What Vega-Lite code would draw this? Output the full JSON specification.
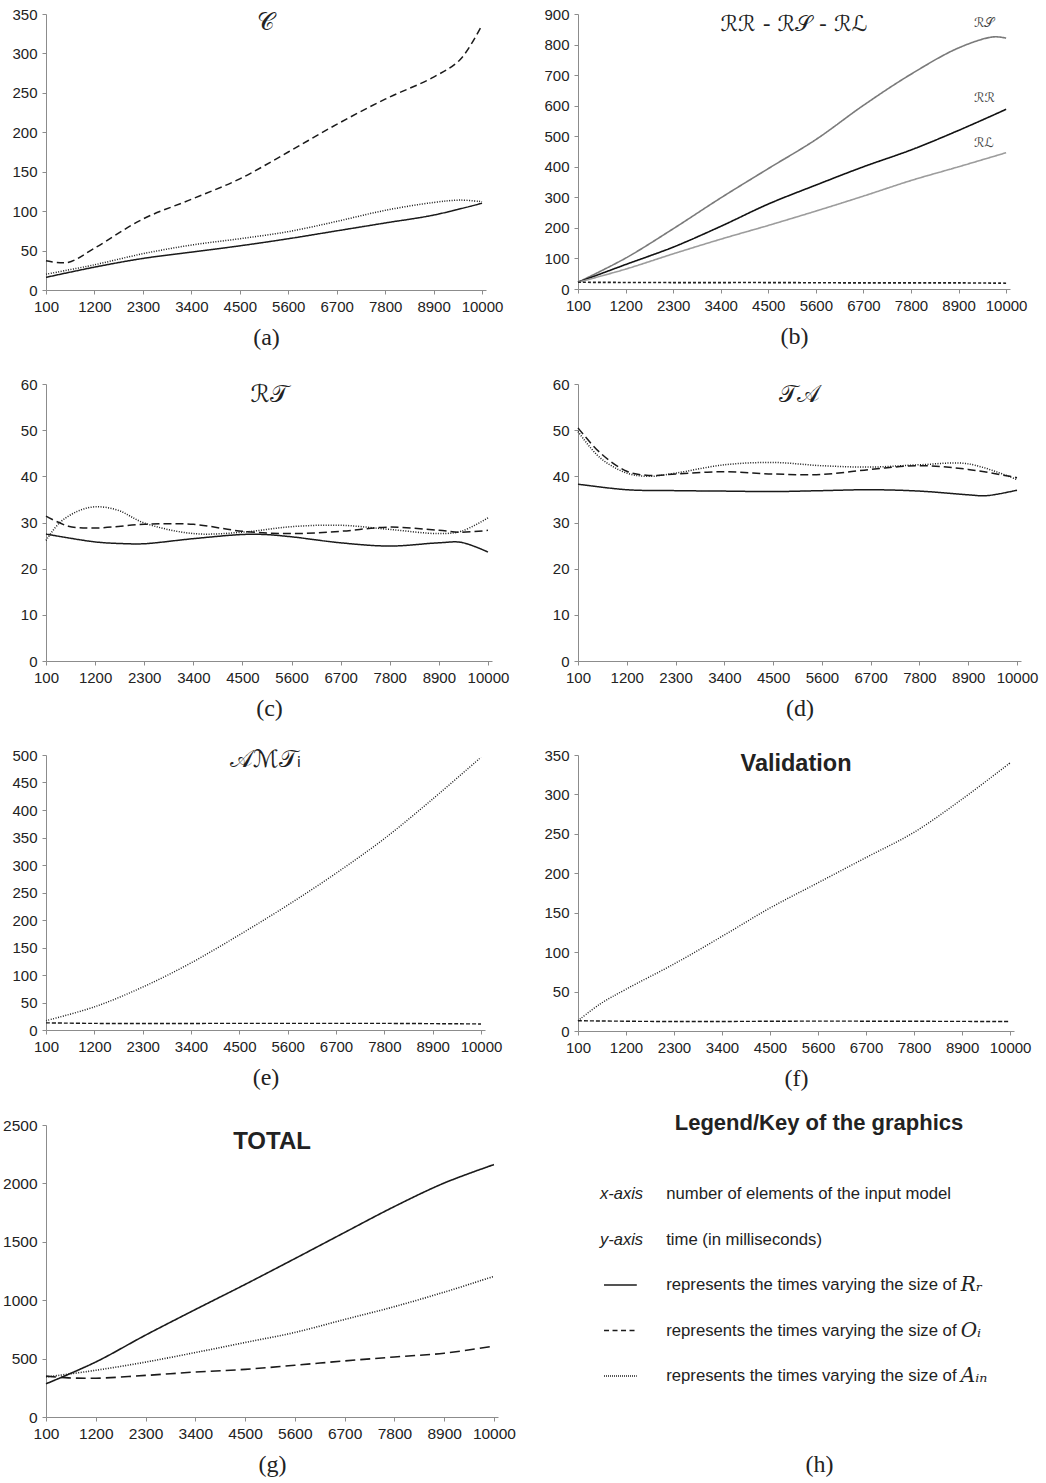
{
  "$schema": "https://vega.github.io/schema/vega-lite/v6.json",
  "padding": {"left": 2, "top": 7, "right": 0, "bottom": 0},
  "background": "white",
  "config": {
    "view": {"stroke": null},
    "font": "Liberation Sans",
    "axis": {
      "grid": false,
      "domainColor": "#8c8c8c",
      "tickColor": "#8c8c8c",
      "tickSize": 4,
      "labelFont": "Liberation Sans",
      "labelFontSize": 15,
      "labelColor": "#222222",
      "labelOverlap": false,
      "labelFlush": false,
      "titleFont": "Liberation Serif",
      "titleFontSize": 24,
      "titleFontWeight": "normal",
      "titleColor": "#222222"
    },
    "axisX": {"labelPadding": 5, "titlePadding": 11},
    "axisY": {"labelPadding": 5},
    "title": {"anchor": "middle", "color": "#222222", "frame": "group"}
  },
  "resolve": {"scale": {"strokeDash": "independent", "color": "independent"}},
  "datasets": {
    "a": [
      {"n": 100, "s": "Rr", "t": 16}, {"n": 1200, "s": "Rr", "t": 29}, {"n": 2300, "s": "Rr", "t": 40}, {"n": 3400, "s": "Rr", "t": 48}, {"n": 4500, "s": "Rr", "t": 56}, {"n": 5600, "s": "Rr", "t": 65}, {"n": 6700, "s": "Rr", "t": 75}, {"n": 7800, "s": "Rr", "t": 85}, {"n": 8900, "s": "Rr", "t": 95}, {"n": 10000, "s": "Rr", "t": 110},
      {"n": 100, "s": "Oi", "t": 37}, {"n": 600, "s": "Oi", "t": 35}, {"n": 1200, "s": "Oi", "t": 53}, {"n": 2300, "s": "Oi", "t": 90}, {"n": 3400, "s": "Oi", "t": 115}, {"n": 4500, "s": "Oi", "t": 141}, {"n": 5600, "s": "Oi", "t": 175}, {"n": 6700, "s": "Oi", "t": 210}, {"n": 7800, "s": "Oi", "t": 242}, {"n": 8900, "s": "Oi", "t": 270}, {"n": 9500, "s": "Oi", "t": 292}, {"n": 10000, "s": "Oi", "t": 336},
      {"n": 100, "s": "Ain", "t": 20}, {"n": 1200, "s": "Ain", "t": 32}, {"n": 2300, "s": "Ain", "t": 46}, {"n": 3400, "s": "Ain", "t": 57}, {"n": 4500, "s": "Ain", "t": 65}, {"n": 5600, "s": "Ain", "t": 74}, {"n": 6700, "s": "Ain", "t": 87}, {"n": 7800, "s": "Ain", "t": 101}, {"n": 8900, "s": "Ain", "t": 111}, {"n": 9500, "s": "Ain", "t": 114}, {"n": 10000, "s": "Ain", "t": 112}
    ],
    "b": [
      {"n": 100, "s": "RS", "t": 22}, {"n": 1200, "s": "RS", "t": 101}, {"n": 2300, "s": "RS", "t": 197}, {"n": 3400, "s": "RS", "t": 298}, {"n": 4500, "s": "RS", "t": 394}, {"n": 5600, "s": "RS", "t": 489}, {"n": 6700, "s": "RS", "t": 601}, {"n": 7800, "s": "RS", "t": 703}, {"n": 8900, "s": "RS", "t": 789}, {"n": 9700, "s": "RS", "t": 825}, {"n": 10000, "s": "RS", "t": 821},
      {"n": 100, "s": "RR", "t": 22}, {"n": 1200, "s": "RR", "t": 80}, {"n": 2300, "s": "RR", "t": 137}, {"n": 3400, "s": "RR", "t": 205}, {"n": 4500, "s": "RR", "t": 278}, {"n": 5600, "s": "RR", "t": 340}, {"n": 6700, "s": "RR", "t": 400}, {"n": 7800, "s": "RR", "t": 455}, {"n": 8900, "s": "RR", "t": 519}, {"n": 10000, "s": "RR", "t": 588},
      {"n": 100, "s": "RL", "t": 22}, {"n": 1200, "s": "RL", "t": 65}, {"n": 2300, "s": "RL", "t": 115}, {"n": 3400, "s": "RL", "t": 163}, {"n": 4500, "s": "RL", "t": 208}, {"n": 5600, "s": "RL", "t": 255}, {"n": 6700, "s": "RL", "t": 304}, {"n": 7800, "s": "RL", "t": 355}, {"n": 8900, "s": "RL", "t": 400}, {"n": 10000, "s": "RL", "t": 446},
      {"n": 100, "s": "Oi", "t": 22}, {"n": 2300, "s": "Oi", "t": 21}, {"n": 4500, "s": "Oi", "t": 21}, {"n": 6700, "s": "Oi", "t": 20}, {"n": 8900, "s": "Oi", "t": 20}, {"n": 10000, "s": "Oi", "t": 19}
    ],
    "bnotes": [
      {"n": 9260, "t": 870, "label": "ℛ𝒮"},
      {"n": 9260, "t": 625, "label": "ℛℛ"},
      {"n": 9260, "t": 478, "label": "ℛℒ"}
    ],
    "c": [
      {"n": 100, "s": "Rr", "t": 27.5}, {"n": 1200, "s": "Rr", "t": 25.8}, {"n": 1900, "s": "Rr", "t": 25.4}, {"n": 2300, "s": "Rr", "t": 25.4}, {"n": 3400, "s": "Rr", "t": 26.5}, {"n": 4500, "s": "Rr", "t": 27.4}, {"n": 5000, "s": "Rr", "t": 27.4}, {"n": 5600, "s": "Rr", "t": 26.9}, {"n": 6700, "s": "Rr", "t": 25.6}, {"n": 7800, "s": "Rr", "t": 24.9}, {"n": 8900, "s": "Rr", "t": 25.6}, {"n": 9400, "s": "Rr", "t": 25.7}, {"n": 10000, "s": "Rr", "t": 23.6},
      {"n": 100, "s": "Oi", "t": 31.4}, {"n": 600, "s": "Oi", "t": 29.2}, {"n": 1200, "s": "Oi", "t": 28.8}, {"n": 2300, "s": "Oi", "t": 29.6}, {"n": 3400, "s": "Oi", "t": 29.6}, {"n": 4500, "s": "Oi", "t": 28.1}, {"n": 5600, "s": "Oi", "t": 27.6}, {"n": 6700, "s": "Oi", "t": 28.1}, {"n": 7800, "s": "Oi", "t": 29.0}, {"n": 8900, "s": "Oi", "t": 28.3}, {"n": 9400, "s": "Oi", "t": 27.9}, {"n": 10000, "s": "Oi", "t": 28.3},
      {"n": 100, "s": "Ain", "t": 26.1}, {"n": 400, "s": "Ain", "t": 29.9}, {"n": 800, "s": "Ain", "t": 32.4}, {"n": 1200, "s": "Ain", "t": 33.4}, {"n": 1700, "s": "Ain", "t": 32.7}, {"n": 2300, "s": "Ain", "t": 29.9}, {"n": 3400, "s": "Ain", "t": 27.6}, {"n": 4500, "s": "Ain", "t": 27.9}, {"n": 5600, "s": "Ain", "t": 29.1}, {"n": 6700, "s": "Ain", "t": 29.4}, {"n": 7800, "s": "Ain", "t": 28.5}, {"n": 8900, "s": "Ain", "t": 27.6}, {"n": 9400, "s": "Ain", "t": 28.1}, {"n": 10000, "s": "Ain", "t": 31.0}
    ],
    "d": [
      {"n": 100, "s": "Rr", "t": 38.3}, {"n": 1200, "s": "Rr", "t": 37.1}, {"n": 2300, "s": "Rr", "t": 36.9}, {"n": 3400, "s": "Rr", "t": 36.8}, {"n": 4500, "s": "Rr", "t": 36.7}, {"n": 5600, "s": "Rr", "t": 36.9}, {"n": 6700, "s": "Rr", "t": 37.1}, {"n": 7800, "s": "Rr", "t": 36.8}, {"n": 8900, "s": "Rr", "t": 36.0}, {"n": 9300, "s": "Rr", "t": 35.8}, {"n": 10000, "s": "Rr", "t": 37.0},
      {"n": 100, "s": "Oi", "t": 50.5}, {"n": 600, "s": "Oi", "t": 45.1}, {"n": 1200, "s": "Oi", "t": 41.1}, {"n": 1700, "s": "Oi", "t": 40.2}, {"n": 2300, "s": "Oi", "t": 40.5}, {"n": 3400, "s": "Oi", "t": 41.0}, {"n": 4500, "s": "Oi", "t": 40.5}, {"n": 5600, "s": "Oi", "t": 40.4}, {"n": 6700, "s": "Oi", "t": 41.5}, {"n": 7800, "s": "Oi", "t": 42.3}, {"n": 8900, "s": "Oi", "t": 41.5}, {"n": 10000, "s": "Oi", "t": 39.7},
      {"n": 100, "s": "Ain", "t": 49.7}, {"n": 600, "s": "Ain", "t": 44.0}, {"n": 1200, "s": "Ain", "t": 40.7}, {"n": 1700, "s": "Ain", "t": 40.0}, {"n": 2300, "s": "Ain", "t": 40.7}, {"n": 3400, "s": "Ain", "t": 42.5}, {"n": 4500, "s": "Ain", "t": 43.0}, {"n": 5600, "s": "Ain", "t": 42.3}, {"n": 6700, "s": "Ain", "t": 42.0}, {"n": 7800, "s": "Ain", "t": 42.5}, {"n": 8900, "s": "Ain", "t": 42.7}, {"n": 10000, "s": "Ain", "t": 39.3}
    ],
    "e": [
      {"n": 100, "s": "Ain", "t": 17}, {"n": 1200, "s": "Ain", "t": 42}, {"n": 2300, "s": "Ain", "t": 78}, {"n": 3400, "s": "Ain", "t": 122}, {"n": 4500, "s": "Ain", "t": 173}, {"n": 5600, "s": "Ain", "t": 227}, {"n": 6700, "s": "Ain", "t": 285}, {"n": 7800, "s": "Ain", "t": 348}, {"n": 8900, "s": "Ain", "t": 420}, {"n": 10000, "s": "Ain", "t": 496},
      {"n": 100, "s": "Oi", "t": 13}, {"n": 1200, "s": "Oi", "t": 12}, {"n": 4500, "s": "Oi", "t": 12}, {"n": 7800, "s": "Oi", "t": 12}, {"n": 10000, "s": "Oi", "t": 11}
    ],
    "f": [
      {"n": 100, "s": "Ain", "t": 13}, {"n": 600, "s": "Ain", "t": 34}, {"n": 1200, "s": "Ain", "t": 53}, {"n": 2300, "s": "Ain", "t": 85}, {"n": 3400, "s": "Ain", "t": 120}, {"n": 4500, "s": "Ain", "t": 156}, {"n": 5600, "s": "Ain", "t": 188}, {"n": 6700, "s": "Ain", "t": 220}, {"n": 7800, "s": "Ain", "t": 252}, {"n": 8900, "s": "Ain", "t": 294}, {"n": 10000, "s": "Ain", "t": 340},
      {"n": 100, "s": "Oi", "t": 13}, {"n": 2300, "s": "Oi", "t": 12}, {"n": 5600, "s": "Oi", "t": 12.5}, {"n": 10000, "s": "Oi", "t": 12}
    ],
    "g": [
      {"n": 100, "s": "Rr", "t": 284}, {"n": 1200, "s": "Rr", "t": 471}, {"n": 2300, "s": "Rr", "t": 701}, {"n": 3400, "s": "Rr", "t": 920}, {"n": 4500, "s": "Rr", "t": 1135}, {"n": 5600, "s": "Rr", "t": 1356}, {"n": 6700, "s": "Rr", "t": 1580}, {"n": 7800, "s": "Rr", "t": 1802}, {"n": 8900, "s": "Rr", "t": 2003}, {"n": 10000, "s": "Rr", "t": 2161},
      {"n": 100, "s": "Oi", "t": 350}, {"n": 600, "s": "Oi", "t": 335}, {"n": 1200, "s": "Oi", "t": 332}, {"n": 2300, "s": "Oi", "t": 356}, {"n": 3400, "s": "Oi", "t": 385}, {"n": 4500, "s": "Oi", "t": 408}, {"n": 5600, "s": "Oi", "t": 443}, {"n": 6700, "s": "Oi", "t": 480}, {"n": 7800, "s": "Oi", "t": 514}, {"n": 8900, "s": "Oi", "t": 546}, {"n": 10000, "s": "Oi", "t": 607},
      {"n": 100, "s": "Ain", "t": 342}, {"n": 1200, "s": "Ain", "t": 400}, {"n": 2300, "s": "Ain", "t": 470}, {"n": 3400, "s": "Ain", "t": 552}, {"n": 4500, "s": "Ain", "t": 638}, {"n": 5600, "s": "Ain", "t": 724}, {"n": 6700, "s": "Ain", "t": 835}, {"n": 7800, "s": "Ain", "t": 945}, {"n": 8900, "s": "Ain", "t": 1069}, {"n": 10000, "s": "Ain", "t": 1204}
    ],
    "legend": [
      {"item": "x-axis", "key": "x-axis", "desc": "number of elements of the input model"},
      {"item": "y-axis", "key": "y-axis", "desc": "time (in milliseconds)"},
      {"item": "Rr", "desc": "represents the times varying the size of", "math": "Rᵣ"},
      {"item": "Oi", "desc": "represents the times varying the size of", "math": "Oᵢ"},
      {"item": "Ain", "desc": "represents the times varying the size of", "math": "Aᵢₙ"}
    ]
  },
  "columns": 2,
  "spacing": {"row": 94, "column": 80},
  "bounds": "flush",
  "concat": [
    {
      "width": 440, "height": 276,
      "title": {"text": "𝒞", "font": "DejaVu Sans", "fontSize": 24, "fontWeight": "normal", "offset": -28},
      "data": {"name": "a"},
      "mark": {"type": "line", "interpolate": "catmull-rom", "strokeWidth": 1.5, "color": "#1a1a1a"},
      "encoding": {
        "x": {"field": "n", "type": "quantitative", "scale": {"domain": [100, 10090], "nice": false, "zero": false}, "axis": {"values": [100, 1200, 2300, 3400, 4500, 5600, 6700, 7800, 8900, 10000], "format": "d", "title": "(a)"}},
        "y": {"field": "t", "type": "quantitative", "scale": {"domain": [0, 350], "nice": false}, "axis": {"values": [0, 50, 100, 150, 200, 250, 300, 350], "format": "d", "title": null}},
        "strokeDash": {"field": "s", "type": "nominal", "scale": {"domain": ["Rr", "Oi", "Ain"], "range": [[1, 0], [7, 4], [1, 1.5]]}, "legend": null}
      }
    },
    {
      "width": 432, "height": 275,
      "title": {"text": "ℛℛ - ℛ𝒮 - ℛℒ", "font": "DejaVu Sans", "fontSize": 22, "fontWeight": "normal", "offset": -29},
      "encoding": {
        "x": {"field": "n", "type": "quantitative", "scale": {"domain": [100, 10090], "nice": false, "zero": false}, "axis": {"values": [100, 1200, 2300, 3400, 4500, 5600, 6700, 7800, 8900, 10000], "format": "d", "title": "(b)"}},
        "y": {"field": "t", "type": "quantitative", "scale": {"domain": [0, 900], "nice": false}, "axis": {"values": [0, 100, 200, 300, 400, 500, 600, 700, 800, 900], "format": "d", "title": null}}
      },
      "layer": [
        {
          "data": {"name": "b"},
          "mark": {"type": "line", "interpolate": "catmull-rom", "strokeWidth": 1.6},
          "encoding": {
            "color": {"field": "s", "type": "nominal", "scale": {"domain": ["RS", "RR", "RL", "Oi"], "range": ["#7a7a7a", "#111111", "#9c9c9c", "#222222"]}, "legend": null},
            "strokeDash": {"field": "s", "type": "nominal", "scale": {"domain": ["RS", "RR", "RL", "Oi"], "range": [[1, 0], [1, 0], [1, 0], [3, 2]]}, "legend": null}
          }
        },
        {
          "data": {"name": "bnotes"},
          "mark": {"type": "text", "font": "DejaVu Sans", "fontSize": 13, "color": "#444444", "align": "left"},
          "encoding": {
            "text": {"field": "label"}
          }
        }
      ]
    },
    {
      "width": 446, "height": 277,
      "title": {"text": "ℛ𝒯", "font": "DejaVu Sans", "fontSize": 24, "fontWeight": "normal", "offset": -30},
      "data": {"name": "c"},
      "mark": {"type": "line", "interpolate": "catmull-rom", "strokeWidth": 1.5, "color": "#1a1a1a"},
      "encoding": {
        "x": {"field": "n", "type": "quantitative", "scale": {"domain": [100, 10090], "nice": false, "zero": false}, "axis": {"values": [100, 1200, 2300, 3400, 4500, 5600, 6700, 7800, 8900, 10000], "format": "d", "title": "(c)"}},
        "y": {"field": "t", "type": "quantitative", "scale": {"domain": [0, 60], "nice": false}, "axis": {"values": [0, 10, 20, 30, 40, 50, 60], "format": "d", "title": null}},
        "strokeDash": {"field": "s", "type": "nominal", "scale": {"domain": ["Rr", "Oi", "Ain"], "range": [[1, 0], [8, 4], [1, 1.5]]}, "legend": null}
      }
    },
    {
      "width": 443, "height": 277,
      "title": {"text": "𝒯𝒜", "font": "DejaVu Sans", "fontSize": 24, "fontWeight": "normal", "offset": -30},
      "data": {"name": "d"},
      "mark": {"type": "line", "interpolate": "catmull-rom", "strokeWidth": 1.5, "color": "#1a1a1a"},
      "encoding": {
        "x": {"field": "n", "type": "quantitative", "scale": {"domain": [100, 10090], "nice": false, "zero": false}, "axis": {"values": [100, 1200, 2300, 3400, 4500, 5600, 6700, 7800, 8900, 10000], "format": "d", "title": "(d)"}},
        "y": {"field": "t", "type": "quantitative", "scale": {"domain": [0, 60], "nice": false}, "axis": {"values": [0, 10, 20, 30, 40, 50, 60], "format": "d", "title": null}},
        "strokeDash": {"field": "s", "type": "nominal", "scale": {"domain": ["Rr", "Oi", "Ain"], "range": [[1, 0], [8, 4], [1, 1.5]]}, "legend": null}
      }
    },
    {
      "width": 439, "height": 275,
      "title": {"text": "𝒜ℳ𝒯ᵢ", "font": "DejaVu Sans", "fontSize": 24, "fontWeight": "normal", "offset": -24},
      "data": {"name": "e"},
      "mark": {"type": "line", "interpolate": "catmull-rom", "strokeWidth": 1.4, "color": "#1a1a1a"},
      "encoding": {
        "x": {"field": "n", "type": "quantitative", "scale": {"domain": [100, 10090], "nice": false, "zero": false}, "axis": {"values": [100, 1200, 2300, 3400, 4500, 5600, 6700, 7800, 8900, 10000], "format": "d", "title": "(e)"}},
        "y": {"field": "t", "type": "quantitative", "scale": {"domain": [0, 500], "nice": false}, "axis": {"values": [0, 50, 100, 150, 200, 250, 300, 350, 400, 450, 500], "format": "d", "title": null}},
        "strokeDash": {"field": "s", "type": "nominal", "scale": {"domain": ["Rr", "Oi", "Ain"], "range": [[1, 0], [4, 2], [1, 1.5]]}, "legend": null}
      }
    },
    {
      "width": 436, "height": 276,
      "title": {"text": "Validation", "font": "Liberation Sans", "fontSize": 23.5, "fontWeight": "bold", "offset": -27},
      "data": {"name": "f"},
      "mark": {"type": "line", "interpolate": "catmull-rom", "strokeWidth": 1.4, "color": "#1a1a1a"},
      "encoding": {
        "x": {"field": "n", "type": "quantitative", "scale": {"domain": [100, 10090], "nice": false, "zero": false}, "axis": {"values": [100, 1200, 2300, 3400, 4500, 5600, 6700, 7800, 8900, 10000], "format": "d", "title": "(f)"}},
        "y": {"field": "t", "type": "quantitative", "scale": {"domain": [0, 350], "nice": false}, "axis": {"values": [0, 50, 100, 150, 200, 250, 300, 350], "format": "d", "title": null}},
        "strokeDash": {"field": "s", "type": "nominal", "scale": {"domain": ["Rr", "Oi", "Ain"], "range": [[1, 0], [4, 2], [1, 1.5]]}, "legend": null}
      }
    },
    {
      "width": 452, "height": 292,
      "title": {"text": "TOTAL", "font": "Liberation Sans", "fontSize": 24, "fontWeight": "bold", "offset": -36},
      "data": {"name": "g"},
      "mark": {"type": "line", "interpolate": "catmull-rom", "strokeWidth": 1.6, "color": "#1a1a1a"},
      "encoding": {
        "x": {"field": "n", "type": "quantitative", "scale": {"domain": [100, 10090], "nice": false, "zero": false}, "axis": {"values": [100, 1200, 2300, 3400, 4500, 5600, 6700, 7800, 8900, 10000], "format": "d", "title": "(g)", "labelFontSize": 15.5}},
        "y": {"field": "t", "type": "quantitative", "scale": {"domain": [0, 2500], "nice": false}, "axis": {"values": [0, 500, 1000, 1500, 2000, 2500], "format": "d", "title": null, "labelFontSize": 15.5}},
        "strokeDash": {"field": "s", "type": "nominal", "scale": {"domain": ["Rr", "Oi", "Ain"], "range": [[1, 0], [10, 5], [1, 1.5]]}, "legend": null}
      }
    },
    {
      "width": 468, "height": 292,
      "title": {"text": "Legend/Key of the graphics", "font": "Liberation Sans", "fontSize": 22, "fontWeight": "bold", "dx": 7, "offset": -10},
      "data": {"name": "legend"},
      "encoding": {
        "y": {"field": "item", "type": "nominal", "scale": {"type": "point", "domain": ["x-axis", "y-axis", "Rr", "Oi", "Ain"], "range": [69, 251], "padding": 0}, "axis": null}
      },
      "layer": [
        {
          "transform": [{"filter": "isValid(datum.key)"}],
          "mark": {"type": "text", "align": "right", "baseline": "middle", "fontStyle": "italic", "fontSize": 16.5, "font": "Liberation Sans", "color": "#222222"},
          "encoding": {
            "x": {"datum": 13.5, "type": "quantitative", "scale": {"domain": [0, 100], "range": [0, 482]}, "axis": {"title": "(h)", "labels": false, "ticks": false, "domain": false, "titlePadding": 35}},
            "text": {"field": "key"}
          }
        },
        {
          "mark": {"type": "text", "align": "left", "baseline": "middle", "fontSize": 16.7, "font": "Liberation Sans", "color": "#222222"},
          "encoding": {
            "x": {"datum": 18.3, "type": "quantitative"},
            "text": {"field": "desc"}
          }
        },
        {
          "transform": [{"filter": "isValid(datum.math)"}],
          "mark": {"type": "text", "align": "left", "baseline": "middle", "fontSize": 20, "fontStyle": "italic", "font": "DejaVu Serif", "color": "#222222"},
          "encoding": {
            "x": {"datum": 79.4, "type": "quantitative"},
            "text": {"field": "math"}
          }
        },
        {
          "transform": [{"filter": "isValid(datum.math)"}],
          "mark": {"type": "rule", "strokeWidth": 1.4, "color": "#1a1a1a"},
          "encoding": {
            "x": {"datum": 5.4, "type": "quantitative"},
            "x2": {"datum": 12.2},
            "strokeDash": {"field": "item", "type": "nominal", "scale": {"domain": ["Rr", "Oi", "Ain"], "range": [[1, 0], [5, 3.5], [1, 1]]}, "legend": null}
          }
        }
      ]
    }
  ]
}
